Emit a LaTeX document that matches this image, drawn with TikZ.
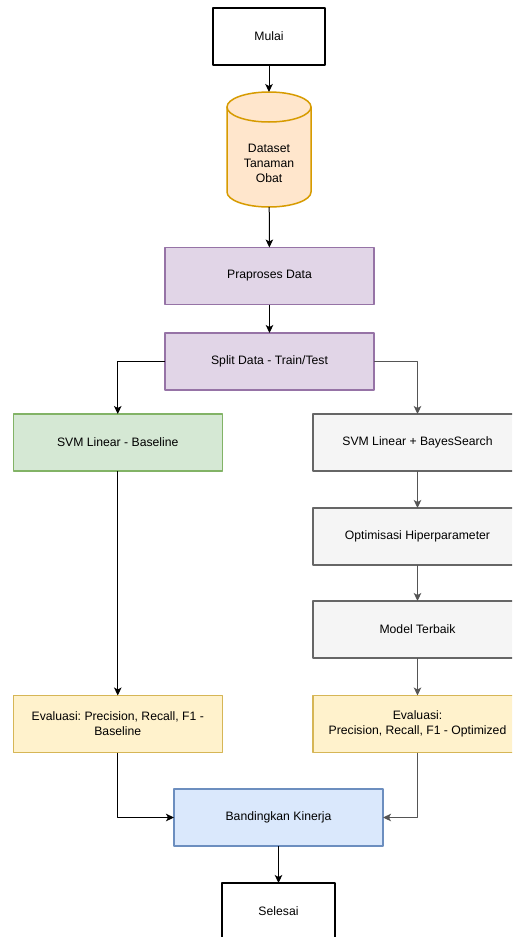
\documentclass[tikz,border=0pt]{standalone}
\usepackage{fontspec}
\setmainfont{Liberation Sans}
\usepackage{xcolor}
\usetikzlibrary{arrows.meta}
\definecolor{cylfill}{HTML}{FFE6CC}
\definecolor{cyldraw}{HTML}{D79B00}
\definecolor{purfill}{HTML}{E1D5E7}
\definecolor{purdraw}{HTML}{9673A6}
\definecolor{grnfill}{HTML}{D5E8D4}
\definecolor{grndraw}{HTML}{82B366}
\definecolor{gryfill}{HTML}{F5F5F5}
\definecolor{grydraw}{HTML}{666666}
\definecolor{ylwfill}{HTML}{FFF2CC}
\definecolor{ylwdraw}{HTML}{D6B656}
\definecolor{blufill}{HTML}{DAE8FC}
\definecolor{bludraw}{HTML}{6C8EBF}
\definecolor{edgegray}{HTML}{555555}
\frenchspacing
\begin{document}
\begin{tikzpicture}[line cap=round,line join=round,x=1pt,y=-1pt,
    every node/.style={font=\fontsize{12.2}{15}\selectfont,align=center,inner sep=0pt,outer sep=0pt},
    proc/.style={rectangle,minimum width=209pt,minimum height=57pt,line width=1.5pt},
    terminal/.style={rectangle,draw=black,fill=white,minimum width=112pt,minimum height=57pt,line width=2pt},
    purbox/.style={proc,draw=purdraw,fill=purfill},
    grnbox/.style={proc,draw=grndraw,fill=grnfill},
    grybox/.style={proc,draw=grydraw,fill=gryfill},
    ylwbox/.style={proc,draw=ylwdraw,fill=ylwfill},
    blubox/.style={proc,draw=bludraw,fill=blufill},
    arr/.style={-{Stealth[length=8pt,width=7.5pt,inset=2pt]},line width=1pt,line cap=butt},
    arrgray/.style={arr,draw=edgegray}]
    \clip (0,0) rectangle (512,937);
    \fill [white] (0,0) rectangle (512,937);
    \node [terminal] (mulai) at (269,36.5) {Mulai};
    \draw [line width=1.5pt,draw=cyldraw,fill=cylfill] (227,107) -- (227,192) arc (180:0:42 and 15) -- (311,107) -- cycle;
    \draw [line width=1.5pt,draw=cyldraw,fill=cylfill] (269,107) ellipse (42 and 15);
    \node [minimum width=84pt,minimum height=115pt] (dataset) at (269,149.5) {};
    \node (datatext) at (269,163) {Dataset\\Tanaman\\Obat};
    \node [purbox] (praproses) at (269.5,276) {Praproses Data};
    \node [purbox] (split) at (269.5,361.5) {Split Data - Train/Test};
    \node [grnbox] (baseline) at (117.75,442.5) {SVM Linear - Baseline};
    \node [grybox] (bayes) at (417.5,442.5) {SVM Linear + BayesSearch};
    \node [grybox] (optim) at (417.5,536.5) {Optimisasi Hiperparameter};
    \node [grybox] (terbaik) at (417.5,629.5) {Model Terbaik};
    \node [ylwbox] (evalbase) at (117.75,724) {Evaluasi: Precision, Recall, F1 -\\Baseline};
    \node [ylwbox] (evalopt) at (417.5,724) {Evaluasi:\\Precision, Recall, F1 - Optimized};
    \node [blubox] (banding) at (278.5,817.5) {Bandingkan Kinerja};
    \node [terminal,minimum width=113pt] (selesai) at (278.5,911.5) {Selesai};
    \draw [arr] (mulai) -- (dataset);
    \draw [arr] (dataset) -- (praproses);
    \draw [arr] (praproses) -- (split);
    \draw [arr] (split.west) -| (baseline.north);
    \draw [arrgray] (split.east) -| (bayes.north);
    \draw [arrgray] (bayes) -- (optim);
    \draw [arrgray] (optim) -- (terbaik);
    \draw [arrgray] (terbaik) -- (evalopt);
    \draw [arr] (baseline) -- (evalbase);
    \draw [arr] (evalbase.south) |- (banding.west);
    \draw [arrgray] (evalopt.south) |- (banding.east);
    \draw [arr] (banding) -- (selesai);
\end{tikzpicture}
\end{document}
